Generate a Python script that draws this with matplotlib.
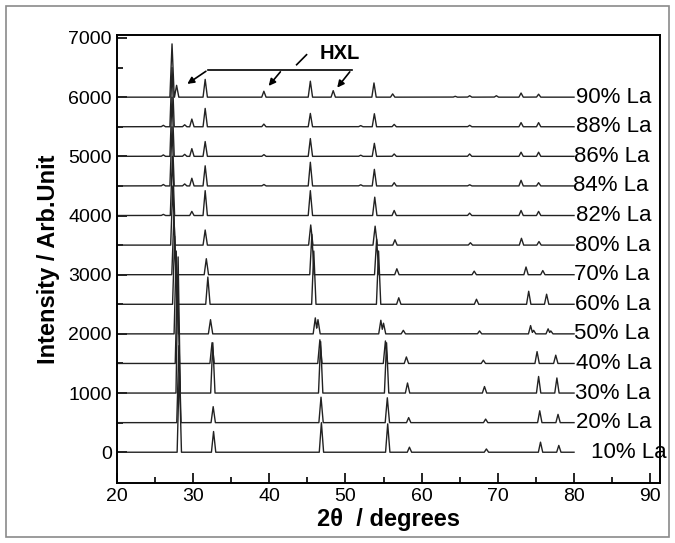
import numpy as np
import matplotlib
matplotlib.use('Agg')
import matplotlib.pyplot as plt
from matplotlib.patches import Rectangle

plt.rcParams['font.family'] = ['Liberation Sans', 'DejaVu Sans']

# series, bottom to top
labels = ['10% La', '20% La', '30% La', '40% La', '50% La', '60% La', '70% La',
          '80% La', '82% La', '84% La', '86% La', '88% La', '90% La']
offsets = [0, 500, 1000, 1500, 2000, 2500, 3000, 3500, 4000, 4500, 5000, 5500, 6000]

# peak positions (2theta) and heights
pos_10 = [28.2, 32.7, 46.85, 55.55, 58.4, 68.5, 75.6, 78.0]
h_10 = [1400, 350, 500, 480, 85, 55, 170, 115]
pos_20 = [28.15, 32.65, 46.8, 55.5, 58.3, 68.4, 75.5, 77.9]
h_20 = [1300, 270, 430, 420, 85, 60, 200, 140]
pos_30 = [28.05, 32.6, 46.75, 55.4, 58.15, 68.25, 75.35, 77.75]
h_30 = [2300, 850, 870, 850, 170, 110, 280, 255]
pos_40 = [27.95, 32.5, 46.65, 55.25, 58.0, 68.1, 75.15, 77.6]
h_40 = [1500, 350, 400, 380, 110, 55, 200, 140]
pos_50 = [27.8, 32.3, 46.05, 46.4, 54.65, 55.0, 57.6, 67.6, 74.3, 74.7, 76.6, 76.95]
h_50 = [1400, 240, 270, 240, 230, 180, 60, 50, 140, 60, 85, 50]
pos_60 = [27.6, 31.95, 45.85, 54.35, 57.0, 67.2, 74.05, 76.4]
h_60 = [1150, 460, 900, 900, 110, 85, 220, 170]
pos_70 = [27.5, 31.75, 45.6, 54.1, 56.75, 66.9, 73.7, 75.9]
h_70 = [1000, 270, 680, 600, 100, 60, 130, 70]
pos_80 = [27.35, 31.6, 45.45, 53.9, 56.5, 66.4, 73.1, 75.4]
h_80 = [1000, 255, 340, 320, 90, 40, 115, 60]
pos_82 = [26.1, 27.3, 29.85, 31.6, 45.4, 53.85, 56.4, 66.3, 73.05, 75.35]
h_82 = [20, 1000, 70, 420, 420, 310, 85, 40, 85, 70]
pos_84 = [26.1, 27.25, 28.9, 29.85, 31.6, 39.3, 45.4, 52.0, 53.8, 56.4, 66.3, 73.05, 75.35]
h_84 = [25, 1000, 35, 130, 340, 25, 400, 20, 280, 55, 20, 95, 55]
pos_86 = [26.1, 27.25, 28.9, 29.85, 31.6, 39.3, 45.4, 52.0, 53.8, 56.4, 66.3, 73.05, 75.35]
h_86 = [25, 1000, 35, 130, 250, 30, 300, 20, 220, 40, 40, 70, 70]
pos_88 = [26.1, 27.25, 28.9, 29.85, 31.6, 39.3, 45.4, 52.0, 53.8, 56.4, 66.3, 73.05, 75.35]
h_88 = [25, 1000, 35, 130, 310, 45, 225, 20, 220, 40, 25, 70, 70]
pos_90 = [27.25, 27.85, 31.6, 39.3, 45.4, 48.4, 53.75, 56.2, 64.4, 66.3, 69.8, 73.05, 75.35]
h_90 = [900, 200, 300, 100, 270, 110, 240, 55, 15, 25, 25, 70, 50]

positions = [pos_10, pos_20, pos_30, pos_40, pos_50, pos_60, pos_70,
             pos_80, pos_82, pos_84, pos_86, pos_88, pos_90]
heights = [h_10, h_20, h_30, h_40, h_50, h_60, h_70,
           h_80, h_82, h_84, h_86, h_88, h_90]
label_x = [82.2, 80.3, 80.1, 80.3, 80.0, 80.1, 80.0, 80.1, 80.3, 79.9, 80.0, 80.3, 80.3]

w = 0.28
tt = np.linspace(20, 80, 6001)

fig = plt.figure(figsize=(6.75, 5.43), dpi=100)
fig.patches.append(Rectangle((0.009, 0.011), 0.982, 0.978, transform=fig.transFigure,
                             fill=False, edgecolor='#8a8a8a', lw=1.2))
ax = fig.add_axes([0.173, 0.1105, 0.805, 0.825])

for i in range(len(labels)):
    y = np.zeros_like(tt)
    for c, h in zip(positions[i], heights[i]):
        y = np.maximum(y, np.interp(tt, [c - w, c, c + w], [0, h, 0], left=0, right=0))
    ax.plot(tt, y + offsets[i], color='#222222', lw=1.0)
    ax.text(label_x[i], offsets[i], labels[i], fontsize=16, va='center', ha='left')

# HXL marker
ax.plot([32.0, 50.8], [6464, 6464], color='k', lw=1.2)
for x0, x1, y1 in [(32.0, 28.95, 6198), (41.7, 39.7, 6154), (50.8, 48.7, 6125)]:
    ax.annotate('', xy=(x1, y1), xytext=(x0, 6464),
                arrowprops=dict(arrowstyle='-|>', color='k', lw=1.2, mutation_scale=10))
ax.plot([43.6, 44.9], [6548, 6717], color='k', lw=1.2)
ax.text(49.3, 6734, 'HXL', fontsize=14.5, fontweight='bold', ha='center', va='center')

ax.set_xlim(20, 91.3)
ax.set_ylim(-520, 7050)
ax.set_xticks(np.arange(20, 91, 10))
ax.set_xticks(np.arange(25, 91, 10), minor=True)
ax.set_yticks(np.arange(0, 7001, 1000))
ax.set_yticks(np.arange(500, 7000, 1000), minor=True)
ax.tick_params(which='both', direction='in', labelsize=14, width=1.2)
ax.tick_params(which='major', length=7)
ax.tick_params(which='minor', length=4)
for s in ax.spines.values():
    s.set_linewidth(1.4)

ax.set_xlabel('2θ  / degrees', fontsize=17, fontweight='bold', labelpad=2)
ax.set_ylabel('Intensity / Arb.Unit', fontsize=17, fontweight='bold', labelpad=6)

fig.savefig('out.png', dpi=100)
